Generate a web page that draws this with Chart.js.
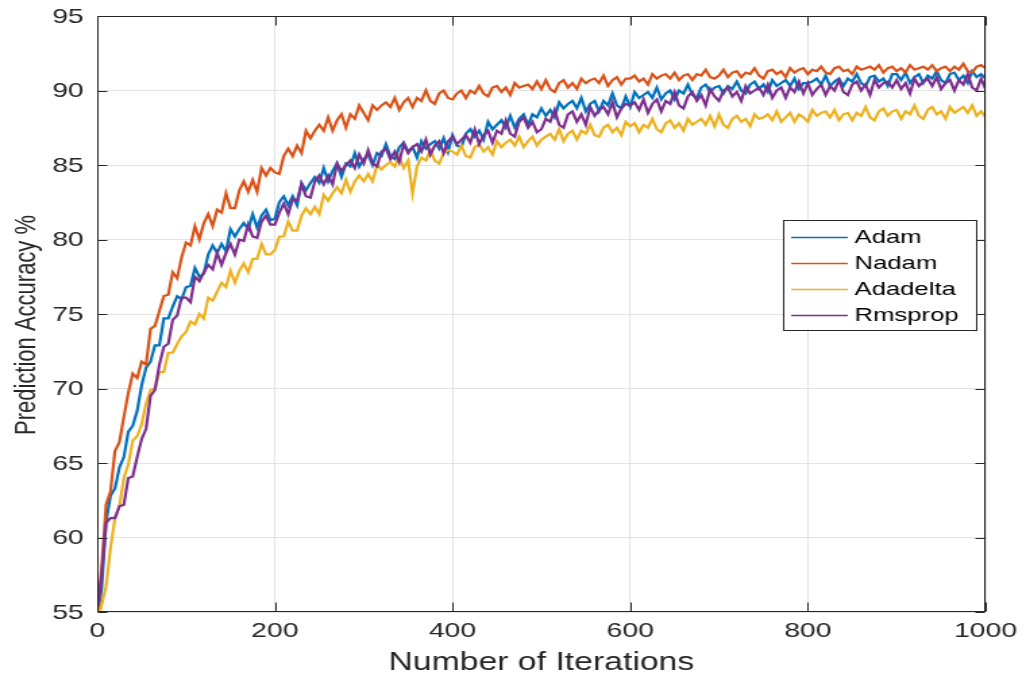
<!DOCTYPE html>
<html>
<head>
<meta charset="utf-8">
<script src="https://cdn.jsdelivr.net/npm/chart.js@4"></script>
<style>
  html, body { margin: 0; padding: 0; background: #fff; }
  #chart { display: block; width: 1026px; height: 683px; }
</style>
</head>
<body>
<!-- the reference is stretched sideways, so draw narrow and let CSS widen it -->
<canvas id="chart" width="760" height="683"></canvas>
<script>
/* ============================= */
/* DATA     */
/* ============================= */

const iterations = [
  1, 5, 10, 15, 20, 25, 30, 35, 40, 45, 50, 55, 60, 65, 70, 75, 80, 85, 90, 95,
  100, 105, 110, 115, 120, 125, 130, 135, 140, 145, 150, 155, 160, 165, 170, 175, 180, 185, 190, 195,
  200, 205, 210, 215, 220, 225, 230, 235, 240, 245, 250, 255, 260, 265, 270, 275, 280, 285, 290, 295,
  300, 305, 310, 315, 320, 325, 330, 335, 340, 345, 350, 355, 360, 365, 370, 375, 380, 385, 390, 395,
  400, 405, 410, 415, 420, 425, 430, 435, 440, 445, 450, 455, 460, 465, 470, 475, 480, 485, 490, 495,
  500, 505, 510, 515, 520, 525, 530, 535, 540, 545, 550, 555, 560, 565, 570, 575, 580, 585, 590, 595,
  600, 605, 610, 615, 620, 625, 630, 635, 640, 645, 650, 655, 660, 665, 670, 675, 680, 685, 690, 695,
  700, 705, 710, 715, 720, 725, 730, 735, 740, 745, 750, 755, 760, 765, 770, 775, 780, 785, 790, 795,
  800, 805, 810, 815, 820, 825, 830, 835, 840, 845, 850, 855, 860, 865, 870, 875, 880, 885, 890, 895,
  900, 905, 910, 915, 920, 925, 930, 935, 940, 945, 950, 955, 960, 965, 970, 975, 980, 985, 990, 995,
  1000
];

const adam = [
  55.0, 56.6, 61.1, 62.8, 63.3, 64.7, 65.4, 67.1, 67.5, 68.5, 70.2, 71.4, 71.8, 72.9, 72.9, 74.7, 74.7, 75.5, 76.2, 76.0,
  76.8, 76.9, 78.1, 77.5, 77.7, 79.0, 79.6, 79.1, 79.7, 79.2, 80.7, 80.2, 80.7, 81.1, 80.7, 81.7, 80.8, 81.6, 82.0, 81.3,
  81.4, 82.5, 82.9, 82.3, 82.9, 82.3, 83.8, 83.3, 83.8, 84.2, 83.8, 84.8, 83.9, 84.6, 85.1, 84.2, 85.1, 84.9, 85.8, 84.9,
  85.4, 85.7, 85.0, 85.8, 85.6, 86.4, 85.6, 85.4, 86.2, 86.5, 85.9, 86.2, 85.5, 86.6, 86.1, 86.4, 86.6, 86.1, 86.8, 85.9,
  87.0, 86.3, 86.2, 87.1, 87.4, 86.9, 87.3, 86.7, 87.9, 87.4, 87.7, 88.0, 87.5, 88.3, 87.5, 88.1, 88.4, 87.7, 88.4, 88.2,
  88.8, 88.3, 88.7, 88.2, 89.2, 88.8, 89.1, 89.3, 88.8, 89.5, 88.6, 89.1, 89.3, 88.6, 89.3, 89.0, 89.8, 89.0, 88.8, 89.6,
  88.9, 89.9, 89.5, 89.7, 89.9, 89.5, 90.2, 89.4, 89.8, 90.0, 89.4, 90.0, 89.8, 90.4, 89.7, 89.5, 90.2, 90.4, 89.9, 90.2,
  90.3, 89.8, 90.3, 90.1, 90.6, 90.0, 89.8, 90.4, 90.6, 90.1, 90.4, 89.9, 90.7, 90.3, 90.5, 90.7, 90.3, 90.8, 90.1, 90.5,
  90.5, 90.6, 90.8, 90.4, 91.0, 90.3, 90.6, 90.8, 90.3, 90.8, 90.6, 91.1, 90.5, 90.3, 90.9, 91.0, 90.6, 90.8, 90.3, 91.1,
  91.1, 90.7, 91.2, 90.5, 90.9, 91.1, 90.5, 91.0, 90.8, 91.3, 90.7, 90.5, 91.1, 91.2, 90.7, 91.0, 90.5, 91.3, 90.9, 91.1,
  90.8
];

const nadam = [
  55.2, 58.0, 62.2, 63.1, 65.8, 66.4, 68.1, 69.7, 71.0, 70.7, 71.8, 71.6, 74.0, 74.2, 75.2, 76.2, 76.3, 77.8, 77.4, 78.8,
  79.8, 79.6, 80.9, 80.0, 81.1, 81.7, 80.9, 82.0, 81.8, 83.1, 82.1, 82.1, 83.3, 83.9, 83.2, 84.0, 83.2, 84.8, 84.3, 84.8,
  84.5, 84.4, 85.6, 86.1, 85.6, 86.3, 85.8, 87.3, 86.8, 87.3, 87.7, 87.3, 88.2, 87.3, 88.0, 88.4, 87.5, 88.4, 88.1, 89.0,
  88.5, 88.0, 89.0, 88.7, 89.0, 89.2, 88.9, 89.5, 88.7, 89.2, 89.5, 88.9, 89.5, 89.3, 90.0, 89.3, 89.1, 89.8, 90.0, 89.5,
  89.4, 89.8, 90.0, 89.5, 90.0, 89.8, 90.3, 89.8, 89.6, 90.2, 90.3, 89.9, 90.2, 89.7, 90.5, 90.2, 90.3, 90.4, 90.1, 90.6,
  90.1, 90.7, 90.1, 89.9, 90.5, 90.7, 90.2, 90.5, 90.1, 90.8, 90.5, 90.7, 90.8, 90.5, 91.0, 90.3, 90.7, 90.9, 90.4, 90.8,
  90.8, 91.0, 90.6, 90.8, 90.4, 91.1, 90.8, 91.0, 91.1, 90.8, 91.2, 90.7, 91.0, 91.1, 90.7, 91.1, 91.0, 91.4, 90.9, 90.8,
  91.0, 91.4, 90.9, 91.2, 91.3, 90.9, 91.2, 91.1, 91.5, 91.0, 90.8, 91.3, 91.4, 91.1, 91.3, 90.9, 91.5, 91.2, 91.4, 91.5,
  91.1, 91.4, 91.3, 91.6, 91.2, 91.1, 91.5, 91.6, 91.3, 91.4, 91.1, 91.6, 91.4, 91.5, 91.6, 91.4, 91.7, 91.2, 91.5, 91.6,
  91.3, 91.5, 91.2, 91.7, 91.4, 91.5, 91.6, 91.4, 91.7, 91.3, 91.5, 91.6, 91.3, 91.6, 91.4, 91.8, 91.3, 91.2, 91.6, 91.7,
  91.5
];

const adadelta = [
  54.6, 55.5, 56.7, 59.3, 61.3, 62.1, 64.0, 64.9, 66.5, 66.8, 67.6, 69.0, 69.9, 70.0, 71.1, 71.1, 72.4, 72.4, 73.0, 73.5,
  73.8, 74.5, 74.3, 75.0, 74.7, 76.1, 75.9, 76.5, 77.1, 76.8, 77.9, 77.1, 77.9, 78.4, 77.8, 78.7, 78.7, 79.7, 79.0, 79.0,
  79.3, 80.2, 80.2, 81.2, 80.6, 80.6, 81.6, 82.1, 81.7, 82.2, 81.7, 83.0, 82.6, 83.1, 83.5, 83.1, 84.0, 83.2, 83.9, 84.3,
  83.9, 84.4, 83.9, 85.0, 84.7, 85.0, 85.2, 84.9, 85.6, 84.8, 85.3, 83.1, 84.9, 85.5, 85.3, 86.0, 85.3, 85.1, 85.8, 86.0,
  85.9, 85.7, 86.3, 85.6, 85.5, 86.2, 86.4, 85.9, 86.2, 85.7, 86.6, 86.2, 86.5, 86.7, 86.3, 86.9, 86.2, 86.6, 86.9, 86.3,
  86.7, 86.9, 87.1, 86.7, 87.4, 86.6, 87.1, 87.3, 86.7, 87.3, 87.1, 87.7, 87.0, 86.9, 87.5, 87.7, 87.2, 87.5, 87.0, 87.9,
  87.6, 87.8, 87.2, 87.7, 87.5, 88.1, 87.4, 87.2, 87.8, 88.0, 87.5, 87.8, 87.3, 88.1, 87.7, 87.9, 88.1, 87.7, 88.3, 87.6,
  88.4, 87.7, 87.5, 88.1, 88.3, 87.9, 88.1, 87.6, 88.4, 88.1, 88.2, 88.4, 88.0, 88.6, 87.9, 88.2, 88.5, 87.9, 88.4, 88.2,
  87.9, 88.7, 88.3, 88.5, 88.6, 88.2, 88.7, 88.0, 88.4, 88.5, 88.0, 88.5, 88.3, 88.9, 88.2, 88.0, 88.6, 88.8, 88.3, 88.6,
  88.7, 88.1, 88.6, 88.4, 89.0, 88.3, 88.1, 88.7, 88.9, 88.4, 88.6, 88.1, 88.9, 88.5, 88.7, 88.9, 88.5, 89.0, 88.3, 88.6,
  88.2
];

const rmsprop = [
  55.4, 57.5, 61.0, 61.3, 61.3, 62.1, 62.2, 64.0, 64.1, 65.4, 66.6, 67.3, 69.5, 69.9, 71.6, 72.8, 73.0, 74.6, 74.9, 76.1,
  76.1, 75.8, 77.5, 77.2, 77.8, 78.3, 78.0, 79.1, 78.3, 79.1, 79.7, 79.0, 80.0, 79.9, 81.0, 80.2, 80.1, 81.2, 81.6, 81.0,
  81.0, 81.8, 82.4, 81.7, 82.7, 82.6, 83.7, 82.9, 82.8, 83.9, 84.3, 83.7, 84.3, 83.7, 85.1, 84.6, 85.0, 85.3, 84.8, 85.7,
  85.1, 86.0, 85.1, 84.9, 85.9, 86.1, 85.4, 85.9, 85.2, 86.4, 85.8, 86.2, 86.4, 85.9, 86.7, 85.7, 86.3, 86.6, 85.8, 86.6,
  86.9, 86.4, 86.7, 87.0, 86.5, 87.4, 86.4, 87.0, 87.3, 86.5, 87.3, 87.1, 88.0, 87.1, 86.9, 87.9, 88.2, 87.5, 87.9, 87.2,
  87.4, 88.1, 87.9, 88.7, 87.7, 87.5, 88.4, 88.6, 87.9, 88.4, 87.7, 88.9, 88.3, 88.7, 88.9, 88.4, 89.2, 88.2, 88.8, 89.1,
  89.0, 89.2, 88.7, 89.4, 88.5, 89.1, 89.4, 88.6, 89.3, 89.1, 89.9, 89.0, 88.8, 89.6, 89.9, 89.3, 89.7, 89.0, 90.1, 89.6,
  89.3, 90.0, 90.2, 89.6, 89.9, 89.3, 90.3, 89.8, 90.0, 90.2, 89.7, 90.4, 89.5, 90.0, 90.2, 89.5, 90.2, 89.9, 90.6, 89.8,
  90.5, 89.7, 90.1, 90.4, 89.7, 90.3, 90.0, 90.7, 89.9, 89.7, 90.4, 90.6, 90.0, 90.4, 89.7, 90.7, 90.2, 90.5, 90.6, 90.2,
  90.7, 90.1, 90.5, 89.8, 90.8, 90.3, 90.6, 90.8, 90.3, 90.9, 90.1, 90.5, 90.7, 90.0, 90.7, 90.4, 91.1, 90.2, 90.0, 90.8,
  90.1
];

const seriesNames = ["Adam", "Nadam", "Adadelta", "Rmsprop"];
const seriesColors = ["#0072BD", "#D95319", "#EDB120", "#7E2F8E"];
const xTicks = [0, 200, 400, 600, 800, 1000];
const yTicks = [55, 60, 65, 70, 75, 80, 85, 90, 95];
const xTitle = "Number of Iterations";
const yTitle = "Prediction Accuracy %";

/* ============================= */
/* FRAME, LABELS, LEGEND          */
/* ============================= */

const INK = "#262626";
const FONT = '"Liberation Sans", Arial, Helvetica, sans-serif';

const matlabFrame = {
  id: "matlabFrame",
  afterDraw(chart) {
    const { ctx, chartArea: a, scales } = chart;
    const L = Math.round(a.left) + 0.5;
    const R = Math.round(a.right) - 0.5;
    const T = Math.round(a.top) + 0.5;
    const B = Math.round(a.bottom) - 0.5;

    ctx.save();
    ctx.strokeStyle = INK;
    ctx.lineWidth = 1;
    ctx.strokeRect(L, T, R - L, B - T);

    // inward ticks on all four sides
    ctx.beginPath();
    xTicks.forEach((v) => {
      const px = Math.round(scales.x.getPixelForValue(v)) + 0.5;
      ctx.moveTo(px, B); ctx.lineTo(px, B - 9);
      ctx.moveTo(px, T); ctx.lineTo(px, T + 9);
    });
    yTicks.forEach((v) => {
      const py = Math.round(scales.y.getPixelForValue(v)) + 0.5;
      ctx.moveTo(L, py); ctx.lineTo(L + 7, py);
      ctx.moveTo(R, py); ctx.lineTo(R - 7, py);
    });
    ctx.stroke();

    // tick labels
    ctx.fillStyle = INK;
    ctx.font = "21px " + FONT;
    ctx.textAlign = "center";
    ctx.textBaseline = "top";
    xTicks.forEach((v) => {
      ctx.fillText(String(v), scales.x.getPixelForValue(v), a.bottom + 9);
    });
    ctx.textAlign = "right";
    ctx.textBaseline = "middle";
    yTicks.forEach((v) => {
      ctx.fillText(String(v), a.left - 10, scales.y.getPixelForValue(v) + 1);
    });

    // axis titles
    ctx.font = "25px " + FONT;
    ctx.textAlign = "center";
    ctx.textBaseline = "middle";
    ctx.fillText(xTitle, (a.left + a.right) / 2, 663);
    ctx.save();
    ctx.font = "22px " + FONT;
    ctx.translate(20, 325);
    ctx.rotate(-Math.PI / 2);
    ctx.fillText(yTitle, 0, 0);
    ctx.restore();

    // legend box
    const box = { left: 580, top: 220, right: 723, bottom: 330 };
    ctx.fillStyle = "#fff";
    ctx.fillRect(box.left, box.top, box.right - box.left, box.bottom - box.top);
    ctx.strokeStyle = INK;
    ctx.strokeRect(box.left + 0.5, box.top + 0.5, box.right - box.left, box.bottom - box.top);
    ctx.font = "19px " + FONT;
    ctx.textAlign = "left";
    const rows = [237, 263, 289, 315];
    seriesNames.forEach((name, i) => {
      ctx.strokeStyle = seriesColors[i];
      ctx.lineWidth = 1.3;
      ctx.beginPath();
      ctx.moveTo(586, rows[i] + 0.5);
      ctx.lineTo(628, rows[i] + 0.5);
      ctx.stroke();
      ctx.fillStyle = "#000";
      ctx.fillText(name, 633, rows[i] + 1);
    });
    ctx.restore();
  },
};

/* ============================= */
/* CHART                          */
/* ============================= */

const seriesData = [adam, nadam, adadelta, rmsprop];

const datasets = seriesData.map((vals, i) => ({
  label: seriesNames[i],
  data: iterations.map((it, k) => ({ x: it, y: vals[k] })),
  borderColor: seriesColors[i],
  borderWidth: 2.2,
  pointRadius: 0,
  tension: 0,
  order: 3 - i,
}));

new Chart(document.getElementById("chart"), {
  type: "line",
  data: { datasets },
  options: {
    responsive: false,
    animation: false,
    devicePixelRatio: 1,
    layout: { padding: { left: 72, right: 30, top: 16, bottom: 71 } },
    plugins: { legend: { display: false }, tooltip: { enabled: false } },
    scales: {
      x: {
        type: "linear",
        min: 0,
        max: 1000,
        ticks: { stepSize: 200, display: false },
        grid: { color: "#e3e3e3", drawTicks: false },
        border: { display: false },
        afterFit: (s) => { s.height = 0; },
      },
      y: {
        min: 55,
        max: 95,
        ticks: { stepSize: 5, display: false },
        grid: { color: "#e3e3e3", drawTicks: false },
        border: { display: false },
        afterFit: (s) => { s.width = 0; },
      },
    },
  },
  plugins: [matlabFrame],
});

const cv = document.getElementById("chart");
cv.style.width = "1026px";
cv.style.height = "683px";
</script>
</body>
</html>
